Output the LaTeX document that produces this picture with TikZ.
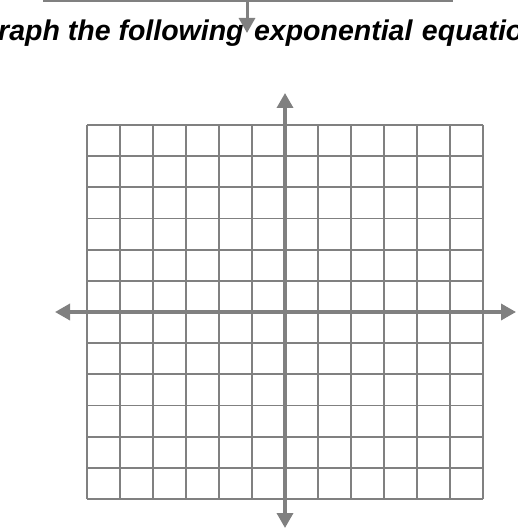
\documentclass[tikz,border=0pt]{standalone}
\usepackage{fontspec}
\setmainfont{Liberation Sans}
\usetikzlibrary{arrows.meta}
\definecolor{gridgray}{RGB}{128,128,128}
\begin{document}
\begin{tikzpicture}[x=1pt,y=-1pt,
  gridline/.style={draw=gridgray,line width=1.7pt},
  axisline/.style={draw=gridgray,line width=3.4pt,-{Triangle[length=15pt,width=16pt]}},
  toparrow/.style={draw=gridgray,line width=3pt,-{Triangle[length=15pt,width=16pt]}},
  title/.style={anchor=base west,inner sep=0pt,font=\fontsize{28.5}{32}\selectfont\bfseries\itshape}]
\useasboundingbox (0,0) rectangle (517,529);
\clip (0,0) rectangle (517,529);
% top frame line and arrow
\coordinate (tl) at (43,1);
\coordinate (tr) at (453,1);
\coordinate (ts) at (247,1);
\coordinate (te) at (247,33);
\draw[draw=gridgray,line width=2.6pt] (tl) -- (tr);
\draw[toparrow] (ts) -- (te);
% title text
\node[title] (ttl) at (-2,41) {raph the following\hskip 10.5pt exponential\hskip 9.5pt equatio};
% grid
\foreach \i in {0,...,12}{
  \draw[gridline] ({87+33*\i},125) -- ({87+33*\i},499);
  \draw[gridline] (87,{125+31.1667*\i}) -- (483,{125+31.1667*\i});
}
% axes
\coordinate (xl) at (55,312);
\coordinate (xr) at (516,312);
\coordinate (yt) at (285,93);
\coordinate (yb) at (285,528);
\coordinate (o) at (285,312);
\draw[axisline] (o) -- (xl);
\draw[axisline] (o) -- (xr);
\draw[axisline] (o) -- (yt);
\draw[axisline] (o) -- (yb);
\end{tikzpicture}
\end{document}
